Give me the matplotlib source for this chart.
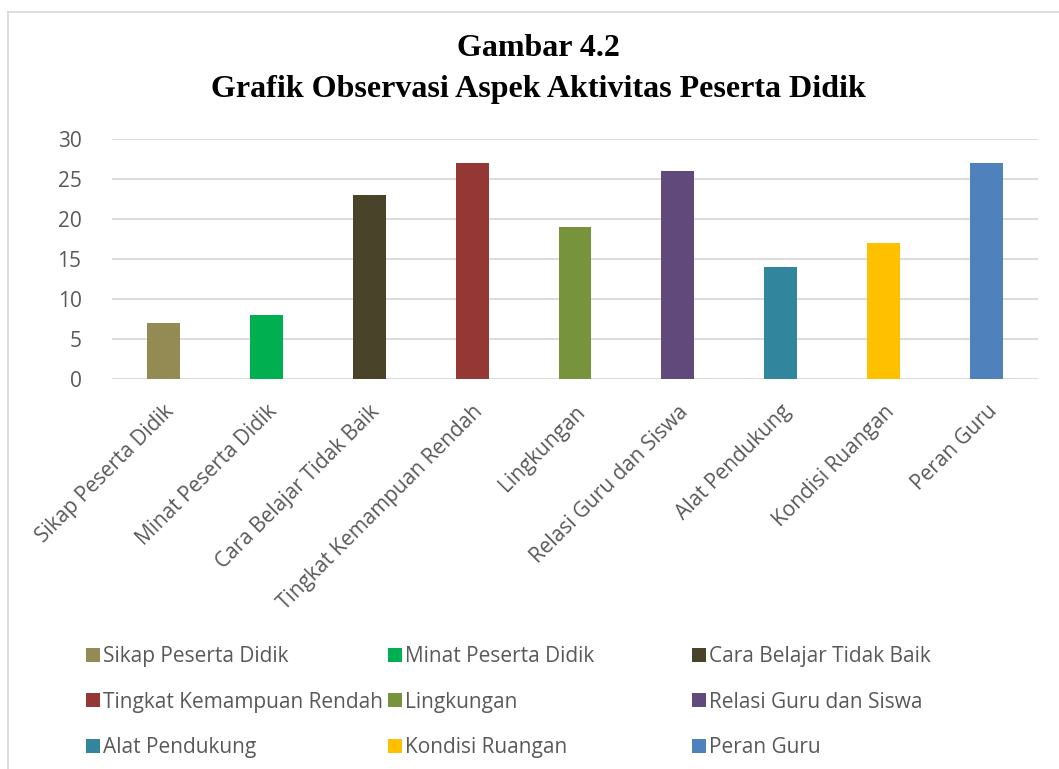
import matplotlib.pyplot as plt
from matplotlib.patches import Patch
from matplotlib.lines import Line2D

# data
categories = ["Sikap Peserta Didik", "Minat Peserta Didik", "Cara Belajar Tidak Baik",
              "Tingkat Kemampuan Rendah", "Lingkungan", "Relasi Guru dan Siswa",
              "Alat Pendukung", "Kondisi Ruangan", "Peran Guru"]
values = [7, 8, 23, 27, 19, 26, 14, 17, 27]
colors = ["#948A54", "#00B050", "#494429", "#953735", "#77933C",
          "#604A7B", "#31859C", "#FFC000", "#4F81BD"]

W, H = 1059, 769
fig = plt.figure(figsize=(W / 100, H / 100), dpi=100)

# plot area in pixel coords
left, right, top, bottom = 112, 1038, 139, 379
ax = fig.add_axes([left / W, 1 - bottom / H, (right - left) / W, (bottom - top) / H])

x = range(len(categories))
ax.bar(x, values, width=0.32, color=colors, zorder=3)
ax.set_xlim(-0.5, len(categories) - 0.5)
ax.set_ylim(0, 30)
ax.set_yticks(range(0, 31, 5))
ax.grid(axis="y", color="#D9D9D9", linewidth=1.3, zorder=0)
for s in ax.spines.values():
    s.set_visible(False)
ax.tick_params(length=0)
ax.tick_params(axis="y", pad=22, labelsize=15, labelcolor="#595959")
ax.set_xticks(list(x))
ax.set_xticklabels(categories, rotation=45, ha="right", rotation_mode="anchor",
                   fontsize=15, color="#595959", family="Open Sans")
ax.tick_params(axis="x", pad=16)
for lab in ax.get_yticklabels():
    lab.set_family("Open Sans")

# title
fig.text(538 / W, 1 - 48 / H, "Gambar 4.2", ha="center", va="center",
         family="Liberation Serif", fontweight="bold", fontsize=23)
fig.text(538 / W, 1 - 90 / H, "Grafik Observasi Aspek Aktivitas Peserta Didik",
         ha="center", va="center", family="Liberation Serif", fontweight="bold", fontsize=23)

# legend: three columns, filled row by row
col_x = [86, 388, 692]
for c in range(3):
    idx = [c, c + 3, c + 6]
    leg = fig.legend([Patch(facecolor=colors[i]) for i in idx],
                     [categories[i] for i in idx],
                     loc="upper left", bbox_to_anchor=(col_x[c] / W, 1 - 646 / H),
                     frameon=False, borderpad=0, borderaxespad=0,
                     prop={"family": "Open Sans", "size": 15},
                     handlelength=0.67, handleheight=0.67, handletextpad=0.15,
                     labelspacing=1.18)
    for t in leg.get_texts():
        t.set_color("#595959")

# chart border
fig.add_artist(Line2D([8 / W, 8 / W], [0, 1 - 12 / H], transform=fig.transFigure,
                      color="#D9D9D9", linewidth=1.3))
fig.add_artist(Line2D([8 / W, 1], [1 - 12 / H, 1 - 12 / H], transform=fig.transFigure,
                      color="#D9D9D9", linewidth=1.3))

fig.savefig("out.png", dpi=100)
